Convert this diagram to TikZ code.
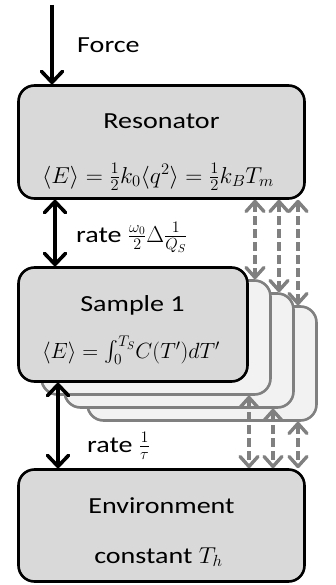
\RequirePackage{fix-cm}
\documentclass[tikz,border=0pt]{standalone}
\usepackage{amsmath}
\usepackage{fontspec}
\setmainfont{Carlito}[FakeStretch=1.22]
\usetikzlibrary{arrows.meta}
\definecolor{boxfill}{HTML}{D9D9D9}
\definecolor{shfill}{HTML}{F2F2F2}
\definecolor{grayline}{HTML}{808080}
\newcommand{\mth}[3][23]{\scalebox{#2}[1]{\fontsize{#1}{27}\selectfont$#3$}}
\tikzset{
  btip/.tip={Straight Barb[length=11pt, width=21pt, line cap=round, line join=round]},
  gtip/.tip={Straight Barb[length=10pt, width=18pt, line cap=round, line join=round]}
}
\begin{document}
\begin{tikzpicture}[x=1pt,y=-1pt,
  every node/.style={font=\fontsize{23}{27}\selectfont, inner sep=0pt},
  mainbox/.style={draw=black, line width=2.6pt, fill=boxfill, rounded corners=16pt},
  shadebox/.style={draw=grayline, line width=2.6pt, fill=shfill, rounded corners=16pt,
     minimum width=229pt, minimum height=114pt},
  blk/.style={line width=3.6pt, black},
  gry/.style={line width=3.4pt, grayline, dash pattern=on 9pt off 4pt}
]
\useasboundingbox (0,0) rectangle (336,585);
% boxes
\node[mainbox, minimum width=286pt, minimum height=113pt] (res) at (161.5,142) {};
\node[shadebox] (s4) at (202,363.5) {};
\node[shadebox] (s3) at (179,350.5) {};
\node[shadebox] (s2) at (156,337.5) {};
\node[mainbox, minimum width=229pt, minimum height=114pt] (s1) at (133,324.5) {};
\node[mainbox, minimum width=286pt, minimum height=112pt] (env) at (161.5,525.5) {};
% texts
\node[anchor=base west] (force) at (77,53) {Force};
\node[anchor=base] (restitle) at (161.5,129) {Resonator};
\node[anchor=base] (resmath) at (158,183) {\mth{1.03}{\langle E\rangle=\frac{1}{2}k_0\langle q^2\rangle=\frac{1}{2}k_BT_m}};
\node[anchor=base west] (rate1) at (76,242) {rate \mth{1}{\frac{\omega_0}{2}\Delta\frac{1}{Q_S}}};
\node[anchor=base] (s1title) at (132.5,311) {Sample 1};
\node[anchor=base] (s1math) at (131,358) {\mth[22]{1.0}{\langle E\rangle=\int_0^{T_S}\!C(T')dT'}};
\node[anchor=base west] (rate2) at (87,452) {rate \mth{1}{\frac{1}{\tau}}};
\node[anchor=base] (envtitle) at (161.5,513) {Environment};
\node[anchor=base] (envsub) at (158.5,563) {constant \mth{1.05}{T_h}};
% coordinates for connector columns
\coordinate (ftop) at (52,5);
\coordinate (c1) at (55,0);
\coordinate (c2) at (58,0);
\coordinate (g1) at (255,0);
\coordinate (g2) at (279,0);
\coordinate (g3) at (298,0);
\coordinate (h1) at (249,0);
\coordinate (h2) at (273,0);
\coordinate (h3) at (298,0);
% gray dashed connectors
\draw[gry, gtip-gtip] (res.south -| g1) -- (s2.north -| g1);
\draw[gry, gtip-gtip] (res.south -| g2) -- (s3.north -| g2);
\draw[gry, gtip-gtip] (res.south -| g3) -- (s4.north -| g3);
\draw[gry, gtip-gtip] (s2.south -| h1) -- (env.north -| h1);
\draw[gry, gtip-gtip] (s3.south -| h2) -- (env.north -| h2);
\draw[gry, gtip-gtip] (s4.south -| h3) -- (env.north -| h3);
% black connectors
\draw[blk, -btip] (ftop) -- (res.north -| ftop);
\draw[blk, btip-btip] (res.south -| c1) -- (s1.north -| c1);
\draw[blk, btip-btip] (s1.south -| c2) -- (env.north -| c2);
\end{tikzpicture}
\end{document}
